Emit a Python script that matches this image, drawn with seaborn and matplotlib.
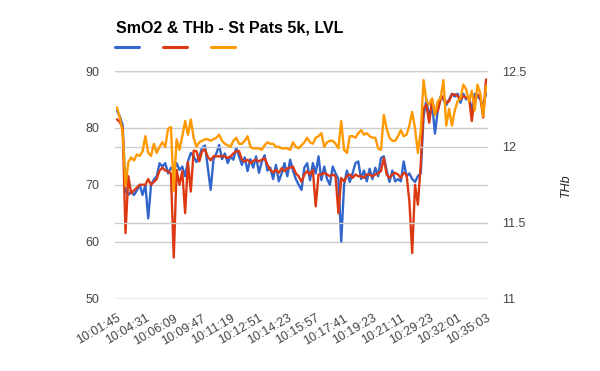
import matplotlib
matplotlib.use("Agg")
import matplotlib.pyplot as plt
from matplotlib.lines import Line2D
import seaborn as sns
import pandas as pd

# tick labels (one every 10 samples)
time_labels = ["10:01:45", "10:04:31", "10:06:09", "10:09:47", "10:11:19",
               "10:12:51", "10:14:23", "10:15:57", "10:17:41", "10:19:23",
               "10:21:11", "10:29:23", "10:32:01", "10:35:03"]

# SmO2 raw (blue)
smo2_raw = [
    83.0, 82.0, 80.5, 69.0, 68.2, 68.8, 68.2, 69.0, 70.0, 68.2,
    70.0, 64.1, 70.0, 70.9, 71.5, 73.8, 73.2, 73.8, 72.0, 73.0,
    72.5, 73.8, 72.6, 73.2, 71.5, 74.1, 75.6, 75.0, 74.0, 75.0,
    76.5, 76.9, 73.0, 69.1, 74.5, 75.5, 77.0, 74.5, 75.5, 73.8,
    75.0, 74.4, 76.5, 75.0, 73.5, 74.8, 72.4, 74.5, 73.0, 75.0,
    72.1, 74.0, 75.2, 72.5, 73.0, 71.0, 73.5, 70.6, 72.0, 73.8,
    71.5, 74.4, 72.5, 71.0, 70.0, 69.1, 73.0, 73.8, 70.8, 73.8,
    72.0, 75.0, 70.8, 73.2, 71.0, 70.0, 73.2, 72.0, 71.0, 60.0,
    70.0, 72.5, 70.5, 72.0, 73.8, 74.1, 71.0, 72.5, 70.6, 72.8,
    71.0, 73.0, 71.5, 74.7, 75.0, 72.5, 70.5, 72.5, 70.6, 71.0,
    70.6, 74.1, 71.5, 72.0, 71.0, 70.5, 71.5, 72.0, 82.0, 85.0,
    81.5, 84.5, 79.0, 83.0, 85.5, 85.0, 84.0, 85.0, 86.0, 85.5,
    86.0, 84.4, 86.0, 85.0, 85.5, 83.0, 86.0, 85.5, 85.0, 84.0,
    86.0,
]

# SmO2 second trace (red)
smo2_alt = [
    81.5, 81.0, 80.0, 61.5, 71.5, 68.5, 69.0, 69.5, 70.0, 70.0,
    70.0, 71.0, 70.0, 70.5, 71.0, 72.5, 73.0, 72.5, 72.4, 72.0,
    57.2, 72.6, 70.0, 72.4, 65.0, 74.0, 68.8, 76.0, 75.9, 74.1,
    75.9, 76.2, 74.9, 74.3, 75.0, 75.0, 75.0, 75.0, 75.0, 74.7,
    75.0, 75.5, 75.9, 75.9, 74.4, 74.1, 74.4, 73.8, 74.2, 74.4,
    74.1, 74.4, 74.7, 73.5, 72.6, 72.2, 72.6, 72.1, 72.9, 72.4,
    72.9, 73.0, 73.2, 72.0, 71.5, 70.5, 71.8, 72.4, 71.8, 72.6,
    66.2, 71.8, 71.8, 72.1, 71.8, 71.5, 71.8, 71.5, 65.0, 71.2,
    70.6, 71.5, 71.8, 71.2, 71.8, 71.5, 71.5, 71.2, 71.8, 71.8,
    71.5, 71.8, 72.0, 72.4, 74.7, 71.8, 71.2, 71.8, 72.1, 71.8,
    71.2, 72.1, 71.8, 67.1, 58.0, 70.0, 66.5, 73.5, 83.5, 84.0,
    80.9, 85.0, 82.5, 83.0, 85.0, 85.6, 84.4, 84.7, 85.9, 85.9,
    85.6, 85.0, 85.6, 85.3, 85.3, 81.2, 85.3, 85.9, 85.3, 81.8,
    88.5,
]

# THb (orange, right axis)
thb = [
    12.26, 12.19, 12.10, 11.74, 11.90, 11.93, 11.91, 11.95, 11.94, 11.97,
    12.07, 11.96, 11.94, 12.02, 11.96, 12.00, 12.03, 12.00, 12.12, 12.13,
    11.71, 12.05, 11.98, 12.07, 12.17, 12.08, 12.18, 12.06, 12.00, 12.03,
    12.04, 12.05, 12.05, 12.04, 12.05, 12.06, 12.08, 12.04, 12.02, 12.01,
    12.00, 12.04, 12.06, 12.02, 12.02, 12.04, 12.07, 12.00, 11.99, 11.99,
    11.99, 11.98, 12.01, 12.03, 12.02, 12.02, 12.00, 12.00, 11.99, 11.99,
    11.99, 11.98, 12.03, 12.00, 11.99, 12.01, 12.03, 12.06, 12.03, 12.02,
    12.06, 12.07, 12.09, 12.00, 12.03, 12.04, 12.04, 12.02, 11.99, 12.17,
    11.98, 11.96, 12.07, 12.07, 12.06, 12.09, 12.11, 12.08, 12.09, 12.07,
    12.06, 12.06, 11.99, 11.98, 12.21, 12.12, 12.06, 12.04, 12.04, 12.07,
    12.11, 12.07, 12.08, 12.14, 12.23, 12.12, 11.96, 12.10, 12.44, 12.30,
    12.28, 12.32, 12.21, 12.30, 12.32, 12.44, 12.14, 12.25, 12.14, 12.24,
    12.30, 12.32, 12.41, 12.38, 12.30, 12.37, 12.24, 12.41, 12.35, 12.20,
    12.40,
]

df = pd.DataFrame({
    "sample": range(len(thb)),
    "raw": smo2_raw,
    "alt": smo2_alt,
    "thb": thb,
})

sns.set_theme(style="white")
plt.rcParams["font.family"] = ["Liberation Sans", "DejaVu Sans"]

blue, red, orange = "#3366cc", "#dc3912", "#ff9900"
grid_col = "#cccccc"
text_col = "#444444"

fig = plt.figure(figsize=(6, 3.71), dpi=100)
ax = fig.add_axes([115 / 600, 1 - 298.5 / 371, 373 / 600, 227.5 / 371])

sns.lineplot(data=df, x="sample", y="raw", ax=ax, color=blue, lw=1.7)
sns.lineplot(data=df, x="sample", y="alt", ax=ax, color=red, lw=1.7)

ax2 = ax.twinx()
sns.lineplot(data=df, x="sample", y="thb", ax=ax2, color=orange, lw=1.7)

ax.set_xlim(-0.7, len(thb) - 0.3)
ax.set_ylim(50, 90)
ax2.set_ylim(11, 12.5)
ax.set_yticks([50, 60, 70, 80, 90])
ax2.set_yticks([11, 11.5, 12, 12.5])
ax2.set_yticklabels(["11", "11.5", "12", "12.5"])

ax.set_xticks(range(0, len(thb), 10))
ax.set_xticklabels(time_labels, rotation=30, ha="right",
                   rotation_mode="anchor")

for a in (ax, ax2):
    for s in a.spines.values():
        s.set_visible(False)
    a.grid(axis="y", color=grid_col, lw=1)
    a.grid(axis="x", visible=False)
    a.tick_params(length=0, labelsize=9, labelcolor=text_col)
    a.set_xlabel("")
ax.tick_params(axis="y", pad=11)
ax.tick_params(axis="x", pad=10)
ax2.tick_params(axis="y", pad=10)
ax.set_ylabel("")
ax2.set_ylabel("THb", style="italic", rotation=90, fontsize=9,
               color="#222222", labelpad=24)

fig.text(116 / 600, 1 - 32.5 / 371, "SmO2 & THb - St Pats 5k, LVL",
         fontsize=11.5, fontweight="bold", color="#000000", va="baseline")

# legend swatches, no labels
for x0, c in zip([115, 163, 211], [blue, red, orange]):
    fig.add_artist(Line2D([x0 / 600, (x0 + 24) / 600], [1 - 46.5 / 371] * 2,
                          transform=fig.transFigure, color=c, lw=2.2))

fig.savefig("out.png", dpi=100)
